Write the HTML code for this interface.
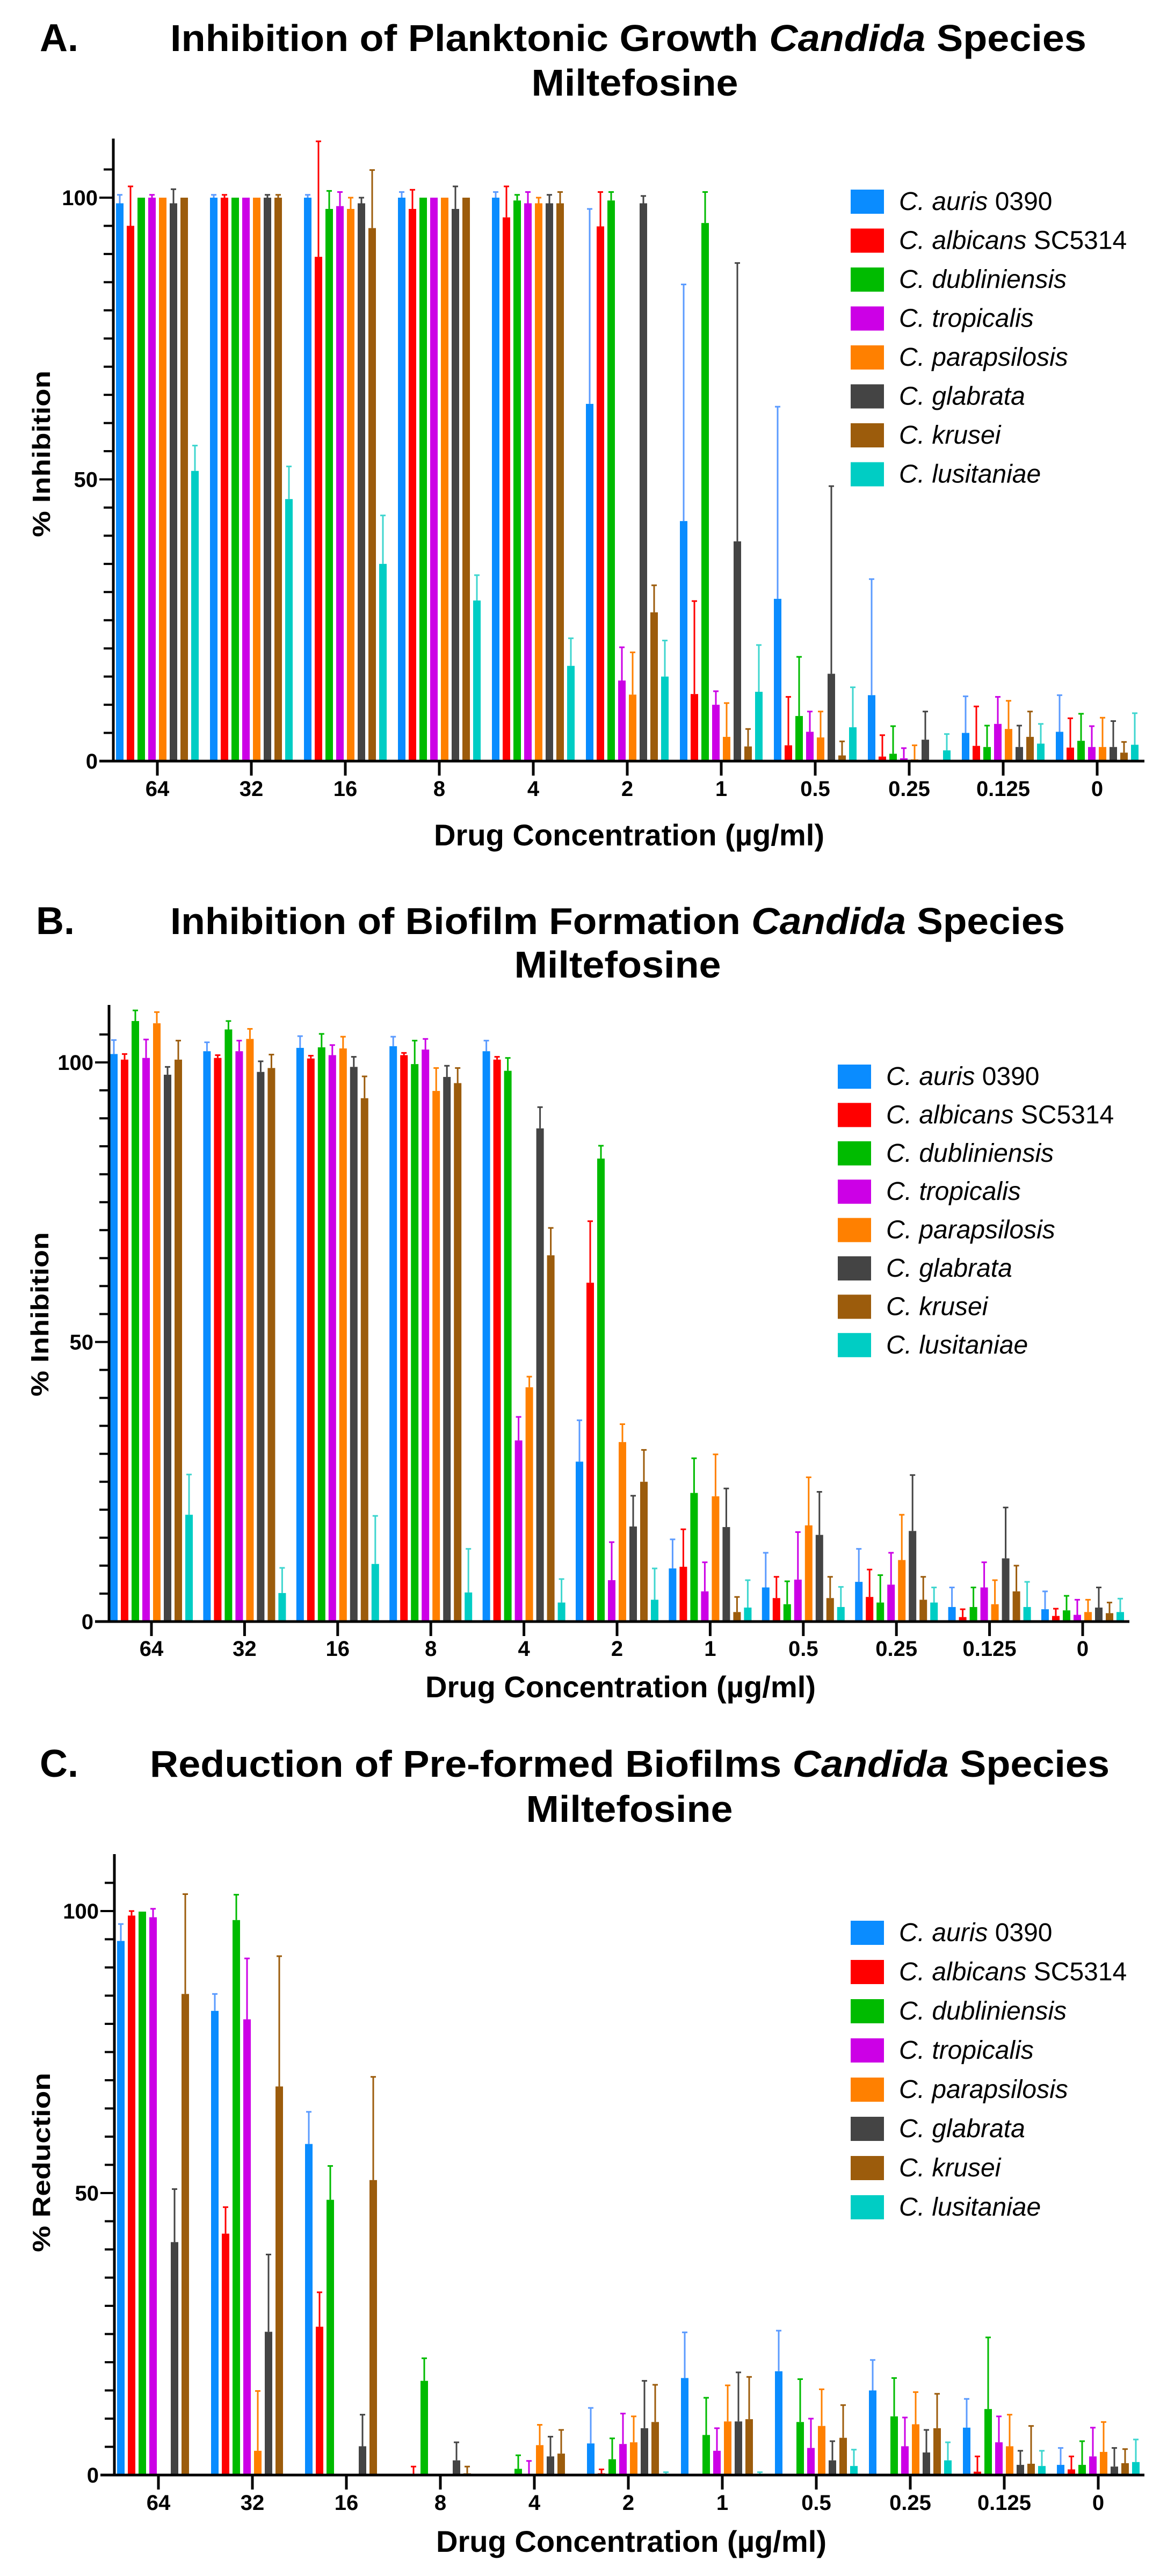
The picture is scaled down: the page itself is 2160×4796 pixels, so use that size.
<!DOCTYPE html>
<html>
<head>
<meta charset="utf-8">
<style>
html,body{margin:0;padding:0;background:#fff;}
svg{display:block;}
text{font-family:"Liberation Sans",Arial,sans-serif;}
</style>
</head>
<body>
<svg id="fig" xmlns="http://www.w3.org/2000/svg" width="2160" height="4796" viewBox="0 0 2160 4796"></svg>
<script>
const categories = ["64","32","16","8","4","2","1","0.5","0.25","0.125","0"];
const species = ["auris","albicans","dubliniensis","tropicalis","parapsilosis","glabrata","krusei","lusitaniae"];
const speciesSuffix = [" 0390"," SC5314","","","","","",""];
const colors = ["#0a8cff","#ff0000","#00bb00","#cc00e6","#ff8000","#444444","#9c5c0c","#00cdc4"];
const errColors = ["#5b9bff","#ff0000","#00bb00","#cc00e6","#ff8000","#444444","#9c5c0c","#3fd6cf"];
const yTickLabels = ["0","50","100"];

const valsA = [
 [99,95,100,100,100,99,100,51.5],
 [100,100,100,100,100,100,100,46.5],
 [100,89.5,98,98.5,98,99,94.6,35],
 [100,98,100,100,100,98,100,28.5],
 [100,96.5,99.5,99,99,99,99,16.9],
 [63.4,94.9,99.5,14.3,11.8,99,26.4,15],
 [42.6,11.9,95.5,10,4.3,39,2.6,12.3],
 [28.8,2.8,8,5.2,4.2,15.5,1,6],
 [11.7,0.8,1.3,0.5,0.3,3.8,0,1.9],
 [5,2.7,2.5,6.6,5.7,2.5,4.3,3.1],
 [5.2,2.4,3.6,2.5,2.5,2.5,1.5,2.9]
];
const hiA = [
 [100.5,102,100,100.5,100,101.5,100,56],
 [100.5,100.5,100,100,100,100.5,100.5,52.3],
 [100.5,110,101.2,101,100,100,104.9,43.6],
 [101,101.4,100,100,100,102,100,33],
 [101,102,100.5,101,100,100.5,101,21.8],
 [98,101,101,20.2,19.3,100.3,31.2,21.4],
 [84.6,28.4,101,12.4,10.3,88.4,5.7,20.6],
 [62.9,11.4,18.5,8.8,8.8,48.8,3.5,13.1],
 [32.3,4.6,6.2,2.3,2.8,8.8,0,4.8],
 [11.5,9.7,6.3,11.4,10.7,6.3,8.8,6.6],
 [11.7,7.6,8.4,6.2,7.7,7.1,3.4,8.5]
];
const valsB = [
 [101.5,100.5,107.4,100.8,107,97.8,100.5,19.1],
 [102,100.8,105.9,102,104.2,98.3,99,5.1],
 [102.6,100.7,102.7,101.3,102.5,99.2,93.6,10.3],
 [102.9,101.3,99.7,102.3,94.9,97.4,96.3,5.2],
 [102,100.5,98.5,32.4,41.9,88.2,65.5,3.4],
 [28.6,60.6,82.8,7.4,32.1,17,25,3.9],
 [9.5,9.8,23,5.4,22.4,16.9,1.7,2.5],
 [6.1,4.2,3.1,7.5,17.2,15.5,4.2,2.6],
 [7.1,4.4,3.4,6.6,11,16.2,3.9,3.4],
 [2.6,0.8,2.6,6.1,3.1,11.3,5.4,2.6],
 [2.2,1,2,1.2,1.7,2.5,1.5,1.7]
];
const hiB = [
 [104,101.5,109.3,104.1,109,99.2,103.9,26.3],
 [103.6,101.3,107.4,103.9,106,100.2,101.4,9.6],
 [104.7,101.2,105.1,103.1,104.6,101,97.5,18.9],
 [104.6,101.7,103.9,104.2,99,99.4,99,13],
 [103.9,101,100.8,36.6,43.8,92,70.4,7.6],
 [36,71.6,85.1,14.2,35.3,22.5,30.7,9.5],
 [14.7,16.5,29.2,10.6,29.9,23.8,4.4,7.4],
 [12.3,8,7.2,16,25.8,23.2,8,6.2],
 [13,9.3,8.3,12.3,19.1,26.2,8,6.1],
 [6.1,2.2,6.1,10.6,7.4,20.4,10,7.1],
 [5.4,2.3,4.6,3.9,3.9,6.1,3.4,4.1]
];
const valsC = [
 [94.7,99.2,99.9,98.9,0,41.3,85.3,0],
 [82.3,42.8,98.4,80.8,4.3,25.4,68.9,0],
 [58.7,26.3,48.8,0,0,5.1,52.3,0],
 [0,0,16.7,0,0,2.6,0.3,0],
 [0,0,1.1,0.2,5.3,3.3,3.8,0],
 [5.6,0.3,2.8,5.5,5.8,8.3,9.4,0.2],
 [17.2,0,7.1,4.3,9.5,9.5,9.9,0.2],
 [18.4,0,9.4,4.8,8.7,2.6,6.6,1.6],
 [15,0,10.4,5.1,9,4,8.3,2.6],
 [8.4,0.6,11.7,5.8,5.1,1.8,2,1.6],
 [1.8,1,1.8,3.3,4.1,1.5,2.1,2.3]
];
const hiC = [
 [97.7,100,100,100.4,0,50.7,103,0],
 [85.3,47.5,102.9,91.6,14.9,39.1,92,0],
 [64.4,32.4,54.8,0,0,10.7,70.6,0],
 [0,1.5,20.7,0,0,5.8,1.5,0],
 [0,0,3.5,2.5,8.9,6.8,8,0],
 [11.9,1,6.5,10.9,10.4,16.7,16,0.5],
 [25.3,0,13.7,8.3,15.9,18.2,17.4,0.5],
 [25.6,0,17,10,15.2,6,12.4,4.5],
 [20.4,0,17.2,10.2,14.7,8,14.4,5.8],
 [13.5,3.3,24.4,10.4,10.7,4.3,8.7,4.3],
 [4.8,3.3,6,8.4,9.4,4.8,4.6,6.3]
];

const NS = "http://www.w3.org/2000/svg";
const svg = document.getElementById("fig");
function mk(tag, attrs, parent){
  const e = document.createElementNS(NS, tag);
  for (const k in attrs) e.setAttribute(k, attrs[k]);
  (parent||svg).appendChild(e);
  return e;
}

function drawPanel(p){
  const g = mk("g", {});
  
  
  const yScale = v => p.y0 - v * p.ppu;
  const xScale = (ci, si) => p.xFirst + ci * p.xStep + (si - 3.5) * 20;

  // titles
  let t = mk("text", {x:p.letterX, y:p.titleY, "font-size":72, "font-weight":"bold"}, g);
  t.textContent = p.id + ".";
  
  
  t = mk("text", {x:p.t1x, y:p.titleY, "font-size":70, "font-weight":"bold", textLength:p.t1w, lengthAdjust:"spacingAndGlyphs"}, g);
  const s1 = mk("tspan", {}, t); s1.textContent = p.t1a + " ";
  const s2 = mk("tspan", {"font-style":"italic"}, t); s2.textContent = "Candida";
  const s3 = mk("tspan", {}, t); s3.textContent = " Species";
  
  
  t = mk("text", {x:p.t2cx, y:p.title2Y, "font-size":70, "font-weight":"bold", "text-anchor":"middle", textLength:385, lengthAdjust:"spacingAndGlyphs"}, g);
  t.textContent = "Miltefosine";
  
  

  // bars + error bars
  for (let ci = 0; ci < categories.length; ci++){
    for (let si = 0; si < species.length; si++){
      const v = p.vals[ci][si], hi = p.hi[ci][si];
      const cx = xScale(ci, si);
      if (hi > v + 0.2){
        const ln = mk("line", {x1:cx, x2:cx, y1:yScale(v), y2:yScale(hi), stroke:errColors[si], "stroke-width":3}, g);
        
        
        const cap = mk("line", {x1:cx-5, x2:cx+5, y1:yScale(hi), y2:yScale(hi), stroke:errColors[si], "stroke-width":3}, g);
        
        
      }
      if (v > 0){
        const r = mk("rect", {x:cx-7, y:yScale(v), width:14, height:v*p.ppu, fill:colors[si]}, g);
        
        
      }
    }
  }

  // axes
  const ya = mk("line", {x1:p.axisX, x2:p.axisX, y1:p.top, y2:p.y0+2.5, stroke:"#000", "stroke-width":5}, g);
  
  
  const xa = mk("line", {x1:p.axisX-26, x2:p.xEnd, y1:p.y0, y2:p.y0, stroke:"#000", "stroke-width":5}, g);
  
  
  for (let v = 5; v <= 105; v += 5){
    if (v % 50 === 0) continue;
    const tk = mk("line", {x1:p.axisX-18, x2:p.axisX, y1:yScale(v), y2:yScale(v), stroke:"#000", "stroke-width":4}, g);
    
    
  }
  for (let i = 0; i < yTickLabels.length; i++){
    const v = +yTickLabels[i];
    const yy = yScale(v);
    if (v > 0){
      const tk = mk("line", {x1:p.axisX-26, x2:p.axisX, y1:yy, y2:yy, stroke:"#000", "stroke-width":4}, g);
      
      
    }
    const lb = mk("text", {x:p.axisX-29, y:yy+14, "font-size":40, "font-weight":"bold", "text-anchor":"end"}, g);
    lb.textContent = yTickLabels[i];
    
    
  }
  for (let ci = 0; ci < categories.length; ci++){
    const xx = p.xFirst + ci * p.xStep;
    const tk = mk("line", {x1:xx, x2:xx, y1:p.y0, y2:p.y0+27, stroke:"#000", "stroke-width":5}, g);
    
    
    const lb = mk("text", {x:xx, y:p.xLabY, "font-size":40, "font-weight":"bold", "text-anchor":"middle"}, g);
    lb.textContent = categories[ci];
    
    
  }
  t = mk("text", {x:p.xtX, y:p.xtY, "font-size":56, "font-weight":"bold", textLength:727, lengthAdjust:"spacingAndGlyphs"}, g);
  t.textContent = "Drug Concentration (µg/ml)";
  
  
  t = mk("text", {x:0, y:0, "font-size":46, "font-weight":"bold", "text-anchor":"middle", textLength:p.ylW, lengthAdjust:"spacingAndGlyphs", transform:"translate(" + (p.ylX+16) + "," + p.ylY + ") rotate(-90)"}, g);
  t.textContent = p.ylabel;
  
  

  // legend
  for (let si = 0; si < species.length; si++){
    const cy = p.legY + si * p.legStep;
    const sw = mk("rect", {x:p.legX, y:cy-22, width:62, height:45, fill:colors[si]}, g);
    
    
    const lt = mk("text", {x:p.legTX, y:cy+16, "font-size":48}, g);
    const a = mk("tspan", {"font-style":"italic"}, lt); a.textContent = "C. " + species[si];
    if (speciesSuffix[si]){ const b = mk("tspan", {}, lt); b.textContent = speciesSuffix[si]; }
    
    
  }
}

drawPanel({id:"A", vals:valsA, hi:hiA, axisX:211, y0:1417, ppu:10.49, top:258, xFirst:293, xStep:175, xEnd:2131,
  xLabY:1482, xtX:808, xtY:1574, ylX:77, ylY:845, ylW:310, ylabel:"% Inhibition",
  legX:1584, legTX:1674, legY:375, legStep:72.5,
  letterX:74, titleY:95, title2Y:178, t1x:317, t1w:1706, t1a:"Inhibition of Planktonic Growth", t2cx:1182});
drawPanel({id:"B", vals:valsB, hi:hiB, axisX:203, y0:3019, ppu:10.41, top:1871, xFirst:282, xStep:173.4, xEnd:2103,
  xLabY:3083, xtX:792, xtY:3160, ylX:74, ylY:2447, ylW:306, ylabel:"% Inhibition",
  legX:1560, legTX:1650, legY:2004, legStep:71.4,
  letterX:67, titleY:1739, title2Y:1820, t1x:317, t1w:1666, t1a:"Inhibition of Biofilm Formation", t2cx:1150});
drawPanel({id:"C", vals:valsC, hi:hiC, axisX:213, y0:4608, ppu:10.5, top:3452, xFirst:295, xStep:175, xEnd:2131,
  xLabY:4673, xtX:812, xtY:4751, ylX:77, ylY:4026, ylW:334, ylabel:"% Reduction",
  legX:1584, legTX:1674, legY:3598, legStep:73,
  letterX:74, titleY:3308, title2Y:3392, t1x:279, t1w:1787, t1a:"Reduction of Pre-formed Biofilms", t2cx:1172});
</script>
</body>
</html>
